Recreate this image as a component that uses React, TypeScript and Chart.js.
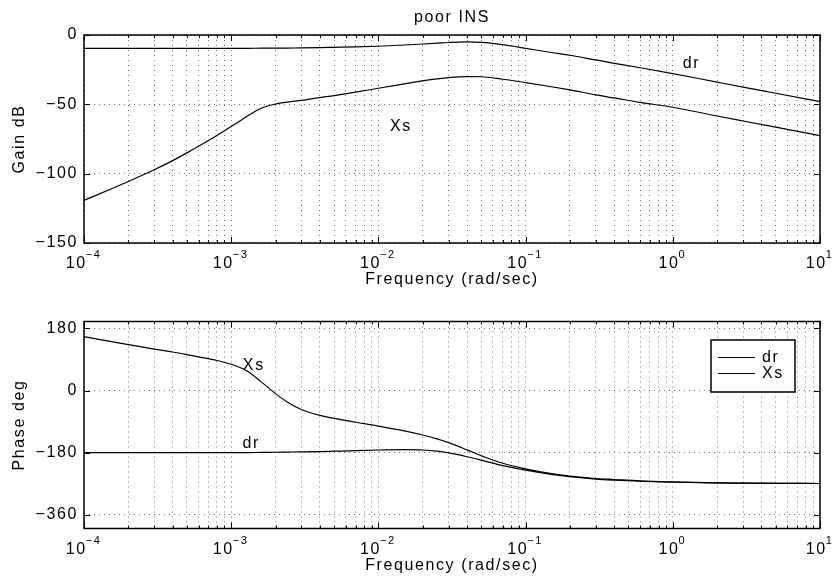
import React, { useEffect, useRef } from 'react';
import { Chart, registerables } from 'chart.js';

Chart.register(...registerables);

// ---------- data ----------
const freq = [
  1e-4, 2e-4, 3e-4, 4e-4, 5e-4, 6e-4, 8e-4, 1e-3, 1.2e-3, 1.3e-3, 1.6e-3, 2e-3,
  2.4e-3, 3e-3, 4e-3, 5e-3, 7e-3, 1e-2, 1.5e-2, 2e-2, 2.5e-2, 3e-2, 4e-2, 5e-2, 7e-2,
  0.1, 0.15, 0.2, 0.3, 0.4, 0.6, 1, 2, 3, 5, 10,
];
const gainDr = [
  -9.6, -9.6, -9.6, -9.6, -9.6, -9.6, -9.6, -9.6, -9.6, -9.6, -9.5, -9.5,
  -9.4, -9.3, -9.1, -8.9, -8.6, -8.1, -7.2, -6.5, -5.9, -5.4, -5.0, -5.3, -7.0,
  -9.6, -12.6, -14.6, -18.0, -20.4, -23.6, -27.8, -34.0, -37.6, -42.0, -48.0,
];
const gainXs = [
  -119.3, -105.6, -97.2, -90.6, -85.0, -80.2, -72.4, -66.0, -60.6, -58.2, -52.8, -49.8,
  -48.4, -47.1, -45.1, -43.7, -41.2, -38.4, -35.3, -33.1, -31.7, -30.7, -30.0, -30.1, -31.9,
  -34.3, -37.3, -39.6, -43.2, -45.4, -48.6, -52.1, -58.4, -62.0, -66.5, -72.6,
];
const phaseDr = [
  -180, -180, -180, -180, -180, -180, -180, -180, -180, -180, -179.5, -179,
  -178.5, -178, -177, -176, -174.5, -172.5, -171.5, -172.5, -176, -181, -192, -202, -218,
  -231, -243, -250, -257, -260, -263, -266, -268, -268.5, -269, -269.5,
];
const phaseXs = [
  156, 133, 120, 111.5, 104, 97.5, 87, 76, 63, 55, 25, -9,
  -33, -55, -72, -81, -92, -103, -117, -129, -140, -151, -172, -189, -211,
  -227, -241, -248, -255, -258, -262, -265, -268, -268.5, -269, -269.5,
];

const seriesNames = ['dr', 'Xs'];
const gainTicks = [-150, -100, -50, 0];
const phaseTicks = [-360, -180, 0, 180];
const xDecades = [-4, -3, -2, -1, 0, 1];
const gainNotes = [
  { text: 'dr', x: 1.34, y: -20.9 },
  { text: 'Xs', x: 0.01424, y: -66.1 },
];
const phaseNotes = [
  { text: 'Xs', x: 0.001424, y: 71 },
  { text: 'dr', x: 0.00137, y: -153 },
];
const titleText = 'poor INS';
const xTitle = 'Frequency (rad/sec)';
const gainTitle = 'Gain dB';
const phaseTitle = 'Phase deg';

// ---------- helpers ----------
const FONT = '"Liberation Sans", Arial, Helvetica, sans-serif';
const FS = 16;
const EXP_FS = 11;
const LS = '1.6px';

const xTickValues: number[] = [];
for (let i = 0; i < xDecades.length - 1; i++) {
  for (let m = 1; m <= 9; m++) {
    xTickValues.push(Number((m * Math.pow(10, xDecades[i])).toPrecision(6)));
  }
}
xTickValues.push(Math.pow(10, xDecades[xDecades.length - 1]));

const isPow10 = (v: number) => {
  const l = Math.log10(v);
  return Math.abs(l - Math.round(l)) < 1e-9;
};
const fmtNum = (n: number) => (n < 0 ? '\u2212' + Math.abs(n) : String(n));

type Note = { text: string; x: number; y: number };

function extrasPlugin(o: { title?: string; notes: Note[]; legend?: boolean }) {
  return {
    id: 'bodeExtras',
    beforeDraw(chart: any) {
      chart.ctx.letterSpacing = LS;
    },
    afterDraw(chart: any) {
      const { ctx, chartArea: a, scales } = chart;
      const xs = scales.x;
      const ys = scales.y;
      ctx.save();
      ctx.letterSpacing = LS;
      ctx.fillStyle = '#000';
      ctx.strokeStyle = '#000';
      ctx.font = `${FS}px ${FONT}`;
      ctx.textAlign = 'center';
      ctx.textBaseline = 'middle';
      for (const n of o.notes) {
        ctx.fillText(n.text, xs.getPixelForValue(n.x), ys.getPixelForValue(n.y));
      }
      // x tick labels: 10 with raised exponent
      ctx.textAlign = 'left';
      ctx.textBaseline = 'alphabetic';
      for (const t of xs.ticks) {
        if (!isPow10(t.value)) continue;
        const px = xs.getPixelForValue(t.value);
        const e = fmtNum(Math.round(Math.log10(t.value)));
        ctx.font = `${FS}px ${FONT}`;
        const w1 = ctx.measureText('10').width;
        ctx.font = `${EXP_FS}px ${FONT}`;
        const w2 = ctx.measureText(e).width;
        const x0 = px - (w1 + w2) / 2;
        const base = a.bottom + 25.3;
        ctx.font = `${FS}px ${FONT}`;
        ctx.fillText('10', x0, base);
        ctx.font = `${EXP_FS}px ${FONT}`;
        ctx.fillText(e, x0 + w1 - 1, base - 10);
      }
      // inner tick marks
      ctx.lineWidth = 1;
      ctx.beginPath();
      for (const t of xs.ticks) {
        const px = Math.round(xs.getPixelForValue(t.value)) + 0.5;
        const len = isPow10(t.value) ? 6 : 3;
        ctx.moveTo(px, a.top);
        ctx.lineTo(px, a.top + len);
        ctx.moveTo(px, a.bottom);
        ctx.lineTo(px, a.bottom - len);
      }
      for (const t of ys.ticks) {
        const py = Math.round(ys.getPixelForValue(t.value)) + 0.5;
        ctx.moveTo(a.left, py);
        ctx.lineTo(a.left + 6, py);
        ctx.moveTo(a.right, py);
        ctx.lineTo(a.right - 6, py);
      }
      ctx.stroke();
      // frame
      ctx.lineWidth = 1.5;
      ctx.strokeRect(a.left, a.top, a.right - a.left, a.bottom - a.top);
      // title
      ctx.font = `${FS}px ${FONT}`;
      ctx.textAlign = 'center';
      ctx.textBaseline = 'middle';
      if (o.title) {
        ctx.fillText(o.title, (a.left + a.right) / 2, a.top - 17);
      }
      // legend
      if (o.legend) {
        const w = 84;
        const h = 52;
        const lx = a.right - 109;
        const ly = a.top + 18.5;
        ctx.fillStyle = '#fff';
        ctx.fillRect(lx, ly, w, h);
        ctx.strokeStyle = '#000';
        ctx.lineWidth = 1.5;
        ctx.strokeRect(lx, ly, w, h);
        ctx.lineWidth = 1;
        ctx.fillStyle = '#000';
        ctx.textAlign = 'left';
        chart.data.datasets.forEach((d: any, i: number) => {
          const yy = ly + 17.5 + i * 16;
          ctx.beginPath();
          ctx.moveTo(lx + 7, yy);
          ctx.lineTo(lx + 44, yy);
          ctx.stroke();
          ctx.fillText(d.label, lx + 51, yy);
        });
      }
      ctx.restore();
    },
  };
}

function makeConfig(p: {
  series: number[][];
  yMin: number;
  yMax: number;
  yTicks: number[];
  yTitle: string;
  padTop: number;
  xHeight: number;
  xTitlePad: number;
  notes: Note[];
  title?: string;
  legend?: boolean;
}): any {
  const gridColor = 'rgba(0,0,0,0.55)';
  return {
    type: 'line',
    data: {
      datasets: p.series.map((s, i) => ({
        label: seriesNames[i],
        data: freq.map((f, k) => ({ x: f, y: s[k] })),
        borderColor: '#000',
        borderWidth: 1.2,
        pointRadius: 0,
        fill: false,
        cubicInterpolationMode: 'monotone',
      })),
    },
    options: {
      animation: false,
      responsive: false,
      devicePixelRatio: 1,
      layout: { padding: { top: p.padTop, right: 15, left: 0, bottom: 0 } },
      plugins: {
        legend: { display: false },
        tooltip: { enabled: false },
        title: { display: false },
      },
      scales: {
        x: {
          type: 'logarithmic',
          min: 1e-4,
          max: 10,
          afterBuildTicks: (scale: any) => {
            scale.ticks = xTickValues.map((v) => ({ value: v }));
          },
          afterFit: (scale: any) => {
            scale.height = p.xHeight;
            scale.paddingLeft = 0;
            scale.paddingRight = 0;
          },
          grid: { color: gridColor, lineWidth: 1, drawTicks: false },
          border: { display: false, dash: [1, 4] },
          ticks: {
            display: false,
            autoSkip: false,
            maxRotation: 0,
            minRotation: 0,
            callback: (v: any) => {
              const n = Number(v);
              return isPow10(n) ? '10^' + Math.round(Math.log10(n)) : '';
            },
          },
          title: {
            display: true,
            text: xTitle,
            color: '#000',
            font: { family: FONT, size: FS, lineHeight: 1.2 },
            padding: { top: 0, bottom: p.xTitlePad },
          },
        },
        y: {
          type: 'linear',
          min: p.yMin,
          max: p.yMax,
          afterBuildTicks: (scale: any) => {
            scale.ticks = p.yTicks.map((v) => ({ value: v }));
          },
          afterFit: (scale: any) => {
            scale.width = 84;
          },
          grid: { color: gridColor, lineWidth: 1, drawTicks: false },
          border: { display: false, dash: [1, 4] },
          ticks: {
            padding: 6,
            color: '#000',
            font: { family: FONT, size: FS },
            callback: (v: any) => fmtNum(Number(v)),
          },
          title: {
            display: true,
            text: p.yTitle,
            color: '#000',
            font: { family: FONT, size: FS, lineHeight: 1.2 },
            padding: { top: 9.6, bottom: 0 },
          },
        },
      },
    },
    plugins: [extrasPlugin({ title: p.title, notes: p.notes, legend: p.legend })],
  };
}

export default function App() {
  const topRef = useRef<HTMLCanvasElement>(null);
  const botRef = useRef<HTMLCanvasElement>(null);

  useEffect(() => {
    const c1 = new Chart(
      topRef.current as HTMLCanvasElement,
      makeConfig({
        series: [gainDr, gainXs],
        yMin: -150,
        yMax: 0,
        yTicks: gainTicks,
        yTitle: gainTitle,
        padTop: 35,
        xHeight: 47,
        xTitlePad: 0.4,
        notes: gainNotes,
        title: titleText,
      })
    );
    const c2 = new Chart(
      botRef.current as HTMLCanvasElement,
      makeConfig({
        series: [phaseDr, phaseXs],
        yMin: -400,
        yMax: 200,
        yTicks: phaseTicks,
        yTitle: phaseTitle,
        padTop: 31.5,
        xHeight: 48.5,
        xTitlePad: 1.4,
        notes: phaseNotes,
        legend: true,
      })
    );
    return () => {
      c1.destroy();
      c2.destroy();
    };
  }, []);

  return (
    <div
      style={{
        position: 'fixed',
        left: 0,
        top: 0,
        width: 835,
        height: 577,
        background: '#fff',
      }}
    >
      <canvas
        ref={topRef}
        width={835}
        height={290}
        style={{ position: 'absolute', left: 0, top: 0, width: 835, height: 290 }}
      />
      <canvas
        ref={botRef}
        width={835}
        height={287}
        style={{ position: 'absolute', left: 0, top: 290, width: 835, height: 287 }}
      />
    </div>
  );
}
